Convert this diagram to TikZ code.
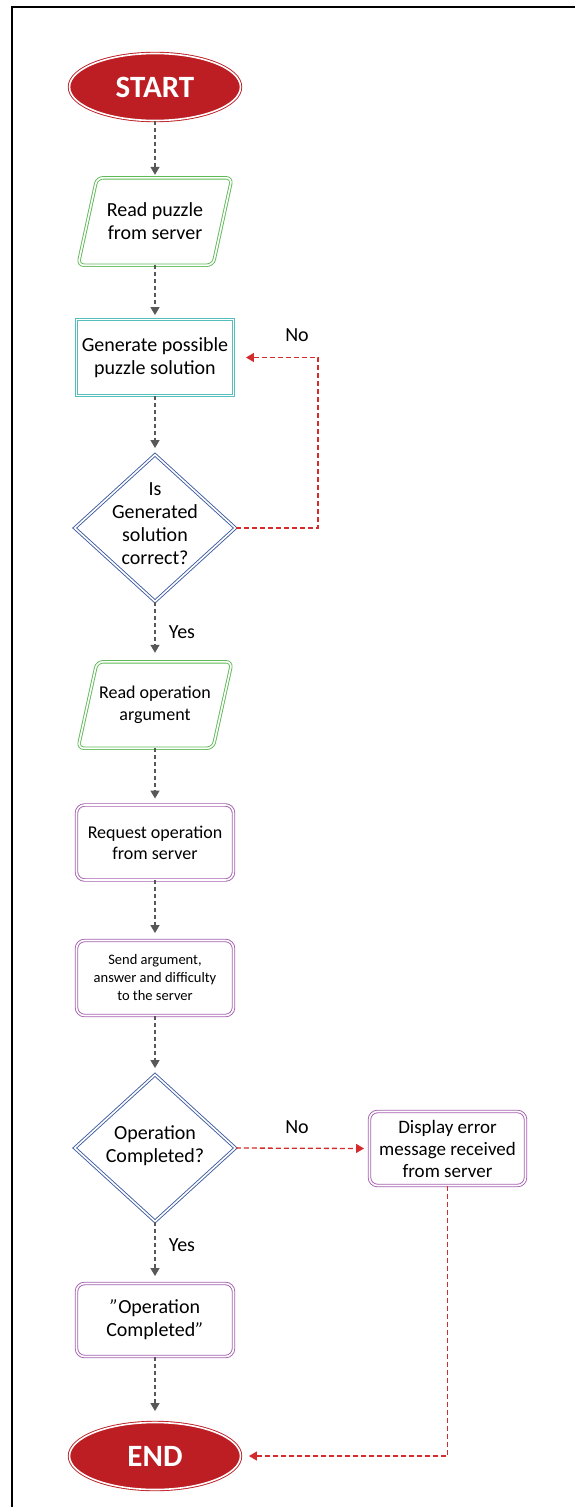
\documentclass[tikz,border=0pt]{standalone}
\usepackage{fontspec}
\setmainfont{Carlito}
\usetikzlibrary{shapes.geometric,arrows.meta,calc}
\definecolor{termred}{RGB}{188,30,36}
\definecolor{gboxc}{RGB}{96,186,88}
\definecolor{tealc}{RGB}{84,190,188}
\definecolor{diablue}{RGB}{62,92,160}
\definecolor{purp}{RGB}{166,96,176}
\definecolor{arrgray}{RGB}{88,88,88}
\definecolor{nored}{RGB}{212,44,44}
\tikzset{
  dbl/.style={line width=0.9pt, double=white, double distance=1.6pt},
  arr/.style={draw=arrgray, line width=1.3pt, dash pattern=on 4pt off 3pt, -{Triangle[width=9pt,length=8pt]}},
  noarr/.style={draw=nored, line width=1.3pt, dash pattern=on 5pt off 3pt, -{Triangle[width=9pt,length=8pt]}},
  term/.style={ellipse, draw=termred, dbl, fill=termred, text=white, font=\bfseries\fontsize{31}{31}\selectfont, minimum width=171pt, minimum height=67pt, inner sep=0pt},
  txt/.style={align=center, inner sep=0pt, font=\fontsize{20}{23}\selectfont},
  pnode/.style={txt, minimum width=140pt},
  gbox/.style={draw=gboxc, dbl, rounded corners=6pt},
  tbox/.style={rectangle, draw=tealc, dbl, fill=white, txt, minimum width=157pt, minimum height=76pt},
  pbox/.style={rectangle, draw=purp, dbl, fill=white, rounded corners=8pt, txt, minimum width=157pt, minimum height=75pt},
  dia/.style={diamond, draw=diablue, dbl, fill=white, minimum width=161pt, minimum height=147pt, inner sep=0pt},
  lbl/.style={inner sep=0pt, font=\fontsize{20}{23}\selectfont}
}
\begin{document}
\begin{tikzpicture}[x=1pt,y=-1pt]
\useasboundingbox (0,0) rectangle (575,1507);
\fill[white] (0,0) rectangle (575,1507);
\draw[line width=2pt] (12,1507) -- (12,7) -- (575,7);

% nodes
\node[term] (start) at (155,87) {START};

\node[pnode, minimum height=87pt] (read1) at (155,221.5) {Read puzzle\\from server};
\draw[gbox] ([xshift=-77pt]read1.south) -- ([xshift=58pt]read1.south) -- ([xshift=77pt]read1.north) -- ([xshift=-58pt]read1.north) -- cycle;

\node[tbox] (gen) at (155,357.5) {Generate possible\\puzzle solution};

\node[dia] (d1) at (155,528) {};
\node[txt] (d1t) at (155,524) {Is\\Generated\\solution\\correct?};

\node[pnode, minimum height=86pt, font=\fontsize{18}{22}\selectfont] (read2) at (155,705) {Read operation\\argument};
\draw[gbox] ([xshift=-77pt]read2.south) -- ([xshift=58pt]read2.south) -- ([xshift=77pt]read2.north) -- ([xshift=-58pt]read2.north) -- cycle;

\node[pbox, font=\fontsize{18}{21}\selectfont] (req) at (155,842.5) {Request operation\\from server};

\node[pbox, font=\fontsize{14.5}{18}\selectfont] (send) at (155,978) {Send argument,\\answer and difficulty\\to the server};

\node[dia] (d2) at (155,1148) {};
\node[txt] (d2t) at (155,1146) {Operation\\Completed?};

\node[pbox, minimum width=156pt, minimum height=74pt, font=\fontsize{19}{22}\selectfont] (disp) at (447.5,1148.5) {Display error\\message received\\from server};

\node[pbox, minimum height=73pt] (opc) at (155,1320) {{\itshape"}Operation\\Completed{\itshape"}};

\node[term] (end) at (155,1456) {END};

% connectors
\draw[arr, shorten >=3pt] (start) -- (read1);
\draw[arr, shorten >=4pt] (read1) -- (gen);
\draw[arr, shorten >=6pt] (gen) -- (d1);
\draw[arr, shorten >=9pt] (d1) -- (read2);
\draw[arr, shorten >=6pt] (read2) -- (req);
\draw[arr, shorten >=7pt] (req) -- (send);
\draw[arr, shorten >=6pt] (send) -- (d2);
\draw[arr, shorten >=7pt] (d2) -- (opc);
\draw[arr, shorten >=11pt] (opc) -- (end);

\coordinate (c1) at (318,528);
\draw[noarr, shorten >=12pt] (d1.east) -- (c1) |- (gen.east);
\draw[noarr, shorten >=5pt] (d2.east) -- (disp.west);
\draw[noarr, shorten >=8pt] (disp.south) |- (end.east);

% labels
\node[lbl] (no1) at (297,335) {No};
\node[lbl] (yes1) at (182,632) {Yes};
\node[lbl] (no2) at (297,1127) {No};
\node[lbl] (yes2) at (182,1245) {Yes};
\end{tikzpicture}
\end{document}
